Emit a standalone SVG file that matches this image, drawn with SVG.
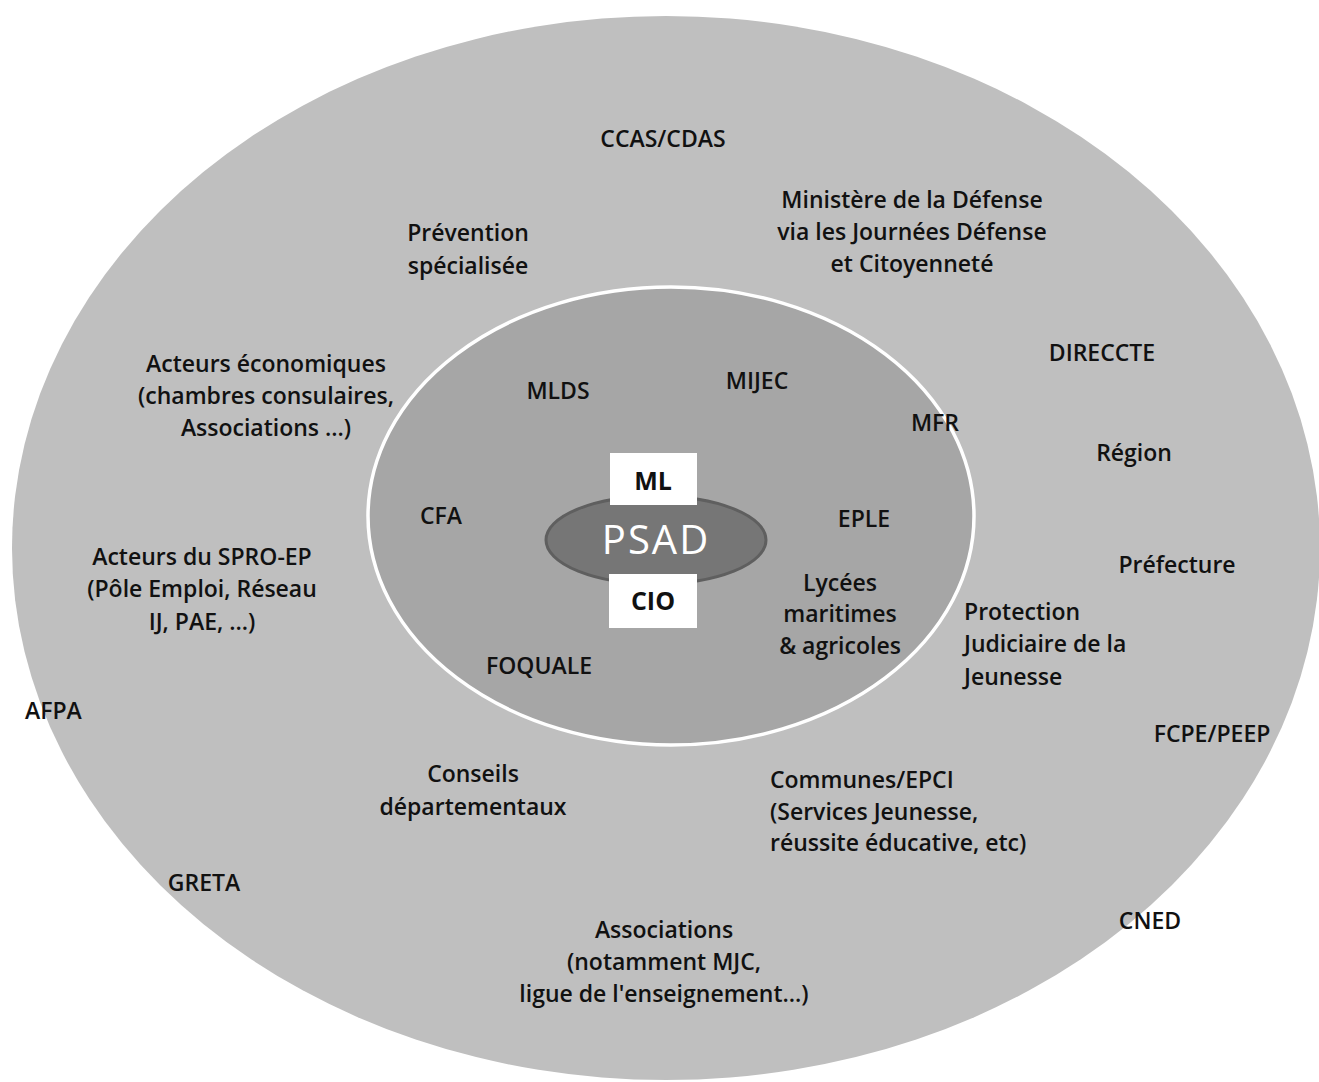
<svg xmlns="http://www.w3.org/2000/svg" width="1319" height="1082" viewBox="0 0 1319 1082">
<style>
.t{font-family:"Open Sans","DejaVu Sans",sans-serif;font-size:23px;font-weight:600;fill:#111;}
.c{text-anchor:middle;}
.box{fill:#ffffff;}
.bt{font-family:"Open Sans","DejaVu Sans",sans-serif;font-size:25px;font-weight:700;fill:#111;text-anchor:middle;}
</style>
<rect x="0" y="0" width="1319" height="1082" fill="#ffffff"/>
<g id="outer">
<ellipse cx="666" cy="548" rx="654" ry="532" fill="#bfbfbf"/>
</g>
<g id="inner">
<ellipse cx="671" cy="516" rx="303" ry="229" fill="#a6a6a6" stroke="#ffffff" stroke-width="3.5"/>
</g>
<g id="psad">
<ellipse cx="656" cy="540" rx="110" ry="44" fill="#767676" stroke="#5f5f5f" stroke-width="3"/>
<text x="656" y="554" font-family="'Open Sans','DejaVu Sans',sans-serif" font-size="40" fill="#ffffff" text-anchor="middle" letter-spacing="2">PSAD</text>
</g>
<g id="ml">
<rect class="box" x="610" y="453" width="87" height="52"/>
<text class="bt" x="653" y="490">ML</text>
</g>
<g id="cio">
<rect class="box" x="609" y="574" width="88" height="54"/>
<text class="bt" x="653" y="610">CIO</text>
</g>
<g id="connectors"></g>
<g id="n-ccas"><text class="t c" x="663" y="147">CCAS/CDAS</text></g>
<g id="n-prevention"><text class="t c" x="468" y="241">Prévention</text><text class="t c" x="468" y="274">spécialisée</text></g>
<g id="n-defense"><text class="t c" x="912" y="208">Ministère de la Défense</text><text class="t c" x="912" y="240">via les Journées Défense</text><text class="t c" x="912" y="272">et Citoyenneté</text></g>
<g id="n-direccte"><text class="t c" x="1102" y="361">DIRECCTE</text></g>
<g id="n-region"><text class="t c" x="1134" y="461">Région</text></g>
<g id="n-prefecture"><text class="t c" x="1177" y="573">Préfecture</text></g>
<g id="n-pjj"><text class="t" x="964" y="620">Protection</text><text class="t" x="964" y="652">Judiciaire de la</text><text class="t" x="964" y="685">Jeunesse</text></g>
<g id="n-fcpe"><text class="t c" x="1212" y="742">FCPE/PEEP</text></g>
<g id="n-communes"><text class="t" x="770" y="788">Communes/EPCI</text><text class="t" x="770" y="820">(Services Jeunesse,</text><text class="t" x="770" y="851">réussite éducative, etc)</text></g>
<g id="n-cned"><text class="t c" x="1150" y="929">CNED</text></g>
<g id="n-associations"><text class="t c" x="664" y="938">Associations</text><text class="t c" x="664" y="970">(notamment MJC,</text><text class="t c" x="664" y="1002">ligue de l'enseignement…)</text></g>
<g id="n-greta"><text class="t c" x="204" y="891">GRETA</text></g>
<g id="n-conseils"><text class="t c" x="473" y="782">Conseils</text><text class="t c" x="473" y="815">départementaux</text></g>
<g id="n-afpa"><text class="t" x="25" y="719">AFPA</text></g>
<g id="n-spro"><text class="t c" x="202" y="565">Acteurs du SPRO-EP</text><text class="t c" x="202" y="597">(Pôle Emploi, Réseau</text><text class="t c" x="202" y="630">IJ, PAE, …)</text></g>
<g id="n-eco"><text class="t c" x="266" y="372">Acteurs économiques</text><text class="t c" x="266" y="404">(chambres consulaires,</text><text class="t c" x="266" y="436">Associations …)</text></g>
<g id="n-mlds"><text class="t c" x="558" y="399">MLDS</text></g>
<g id="n-mijec"><text class="t c" x="757" y="389">MIJEC</text></g>
<g id="n-mfr"><text class="t c" x="935" y="431">MFR</text></g>
<g id="n-cfa"><text class="t c" x="441" y="524">CFA</text></g>
<g id="n-eple"><text class="t c" x="864" y="527">EPLE</text></g>
<g id="n-lycees"><text class="t c" x="840" y="591">Lycées</text><text class="t c" x="840" y="622">maritimes</text><text class="t c" x="840" y="654">&amp; agricoles</text></g>
<g id="n-foquale"><text class="t c" x="539" y="674">FOQUALE</text></g>
</svg>
